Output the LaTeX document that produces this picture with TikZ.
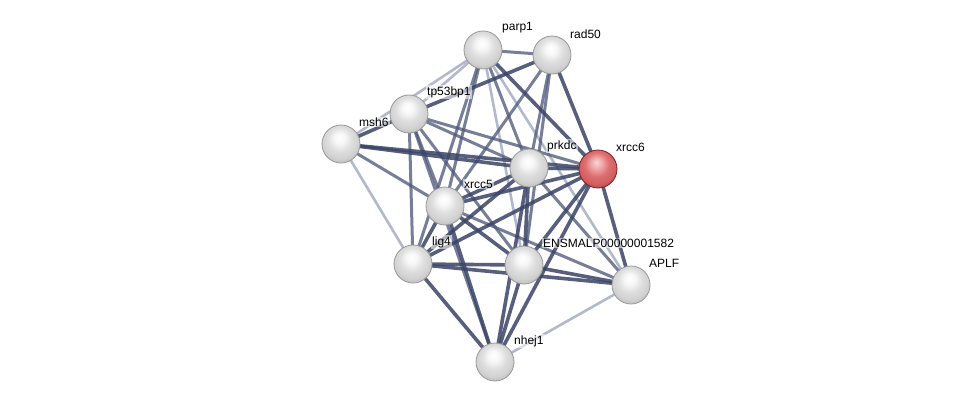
\documentclass[tikz,border=0pt]{standalone}
\usepackage{fontspec}
\setmainfont{Liberation Sans}
\definecolor{edgedark}{RGB}{58,68,102}
\definecolor{edgemid}{RGB}{80,90,124}
\definecolor{edgelight}{RGB}{160,168,192}
\pgfdeclareradialshading{graysphere}{\pgfpoint{-2bp}{9bp}}{%
  color(0bp)=(white);
  color(7bp)=(white!97!black);
  color(16bp)=(white!87!black);
  color(24bp)=(white!82!black);
  color(30bp)=(white!74!black);
  color(50bp)=(white!62!black)}
\pgfdeclareradialshading{redsphere}{\pgfpoint{-2bp}{9bp}}{%
  color(0bp)=(rgb,255:red,250;green,215;blue,215);
  color(7bp)=(rgb,255:red,240;green,170;blue,170);
  color(16bp)=(rgb,255:red,222;green,110;blue,112);
  color(24bp)=(rgb,255:red,210;green,95;blue,98);
  color(30bp)=(rgb,255:red,180;green,70;blue,72);
  color(50bp)=(rgb,255:red,140;green,40;blue,42)}
\begin{document}
\begin{tikzpicture}[x=1pt,y=-1pt,
  prot/.style={circle, minimum size=38pt, inner sep=0pt, draw=gray!80, line width=0.8pt, shading=graysphere},
  hub/.style={circle, minimum size=38pt, inner sep=0pt, draw={rgb,255:red,130;green,30;blue,32}, line width=0.8pt, shading=redsphere},
  lbl/.style={anchor=west, inner sep=1pt, fill=white, fill opacity=0.55, text opacity=1, font=\fontsize{12}{14}\selectfont},
  estrong/.style={draw=edgedark, line width=3.6pt, opacity=0.85},
  emed/.style={draw=edgemid, line width=3pt, opacity=0.78},
  elight/.style={draw=edgelight, line width=2.6pt, opacity=0.8}]
\useasboundingbox[fill=white] (0,0) rectangle (976,407);
% node positions
\coordinate (cp1) at (483,50);
\coordinate (cr50) at (552,55);
\coordinate (ctp) at (409,114);
\coordinate (cmsh) at (341,144);
\coordinate (cpk) at (529,168);
\coordinate (cx6) at (598,169);
\coordinate (cx5) at (445,206);
\coordinate (clg) at (413,264);
\coordinate (cens) at (524,265);
\coordinate (cap) at (631,285);
\coordinate (cnh) at (495,362);
% light edges
\foreach \a/\b in {cp1/ctp, cp1/cmsh, cmsh/clg, cap/cnh, cp1/cens, cp1/cap}
  \draw[elight] (\a) -- (\b);
% medium edges
\foreach \a/\b in {cx6/ctp, cpk/cp1, cpk/cr50, cpk/ctp, cpk/cap, cx5/cp1, cx5/cr50, cx5/ctp, cx5/cap, cx5/cmsh, clg/ctp, clg/cp1, cens/cr50, cens/ctp, ctp/cnh, cp1/cr50}
  \draw[emed] (\a) -- (\b);
% strong edges
\foreach \a/\b in {cx6/cpk, cx6/cx5, cx6/clg, cx6/cens, cx6/cnh, cx6/cap, cx6/cmsh, cx6/cr50, cx6/cp1, cpk/cx5, cpk/clg, cpk/cens, cpk/cnh, cpk/cmsh, cx5/clg, cx5/cens, cx5/cnh, clg/cens, clg/cnh, cens/cnh, ctp/cr50, cmsh/ctp, clg/cap, cens/cap}
  \draw[estrong] (\a) -- (\b);
% nodes
\node[prot] (p1) at (cp1) {};
\node[prot] (r50) at (cr50) {};
\node[prot] (tp) at (ctp) {};
\node[prot] (msh) at (cmsh) {};
\node[prot] (pk) at (cpk) {};
\node[hub] (x6) at (cx6) {};
\node[prot] (x5) at (cx5) {};
\node[prot] (lg) at (clg) {};
\node[prot] (ens) at (cens) {};
\node[prot] (ap) at (cap) {};
\node[prot] (nh) at (cnh) {};
% labels
\node[lbl] (lp1) at (501,28) {parp1};
\node[lbl] (lr50) at (569,34) {rad50};
\node[lbl] (ltp) at (426,92) {tp53bp1};
\node[lbl] (lmsh) at (358,122) {msh6};
\node[lbl] (lpk) at (546,146) {prkdc};
\node[lbl] (lx6) at (615,147) {xrcc6};
\node[lbl] (lx5) at (463,184) {xrcc5};
\node[lbl] (llg) at (431,242) {lig4};
\node[lbl] (lens) at (542,243) {ENSMALP00000001582};
\node[lbl] (lap) at (648,263) {APLF};
\node[lbl] (lnh) at (513,341) {nhej1};
\end{tikzpicture}
\end{document}
